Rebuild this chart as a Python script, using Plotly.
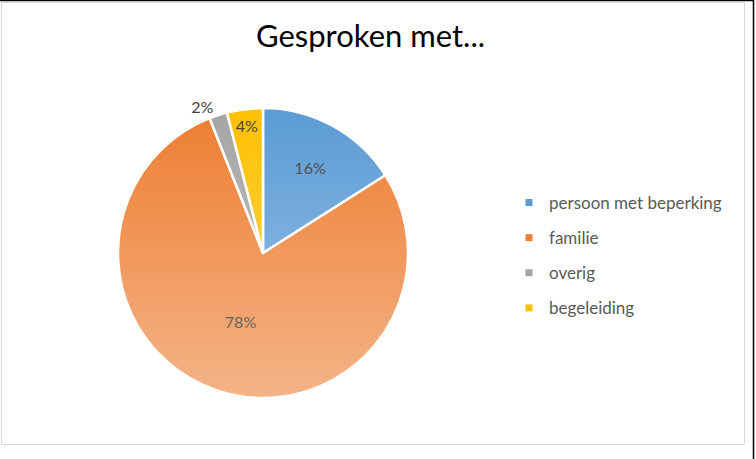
import base64
import plotly.graph_objects as go

# ---- data ----
labels = ["persoon met beperking", "familie", "overig", "begeleiding"]
values = [16, 78, 2, 4]
colors = ["#5B9BD5", "#ED7D31", "#A5A5A5", "#FFC000"]
text_positions = ["inside", "inside", "outside", "inside"]
text_colors = ["#404040", "#1a1a1a", "#404040", "#404040"]
title_text = "Gesproken met..."

W, H = 756, 459
# pie placement (pixels -> paper)
cx, cy, r = 263, 253, 145
dom_x = [(cx - r) / W, (cx + r) / W]
dom_y = [(H - cy - r) / H, (H - cy + r) / H]

fig = go.Figure()
fig.add_trace(go.Pie(
    labels=labels, values=values, sort=False, direction="clockwise", rotation=0,
    marker=dict(colors=colors, line=dict(color="white", width=2.5)),
    textinfo="percent", texttemplate="%{percent:.0%}",
    textposition=text_positions, insidetextorientation="horizontal",
    textfont=dict(family="Lato", size=16, color=text_colors),
    showlegend=False, domain=dict(x=dom_x, y=dom_y), hoverinfo="label+percent",
))

# legend entries
for i, (lab, col) in enumerate(zip(labels, colors)):
    fig.add_trace(go.Scatter(
        x=[None], y=[None], mode="markers", name=lab, legendgroup=f"g{i}",
        marker=dict(symbol="square", size=7, color=col),
    ))

# vertical gradient overlay (Excel-like gradient fill)
svg = ('<svg xmlns="http://www.w3.org/2000/svg" width="100" height="100" viewBox="0 0 100 100" '
       'preserveAspectRatio="none"><defs><linearGradient id="g" x1="0" y1="0" x2="0" y2="1">'
       '<stop offset="0" stop-color="#ffffff" stop-opacity="0"/>'
       '<stop offset="1" stop-color="#ffffff" stop-opacity="0.42"/>'
       '</linearGradient></defs><rect x="0" y="0" width="100" height="100" fill="url(#g)"/></svg>')
uri = "data:image/svg+xml;base64," + base64.b64encode(svg.encode()).decode()

fig.update_layout(
    width=W, height=H, margin=dict(l=0, r=0, t=0, b=0),
    paper_bgcolor="white", plot_bgcolor="white",
    font=dict(family="Lato", color="#595959"),
    title=dict(text=title_text, x=370.5 / W, xanchor="center", y=(H - 36) / H, yanchor="middle",
               font=dict(family="Lato", size=31, color="#000000")),
    xaxis=dict(visible=False), yaxis=dict(visible=False),
    legend=dict(x=(551 - 42) / W, xanchor="left", y=(H - 185) / H, yanchor="top",
                font=dict(family="Lato", size=17, color="#595959"),
                tracegroupgap=10, bgcolor="rgba(0,0,0,0)", traceorder="grouped"),
    images=[dict(source=uri, xref="paper", yref="paper", x=dom_x[0], y=dom_y[1],
                 sizex=dom_x[1] - dom_x[0], sizey=dom_y[1] - dom_y[0],
                 xanchor="left", yanchor="top", sizing="stretch", layer="above")],
    shapes=[
        dict(type="rect", xref="paper", yref="paper", x0=1.5 / W, x1=744.5 / W,
             y0=(H - 444.5) / H, y1=(H - 2.5) / H, line=dict(color="#D9D9D9", width=1)),
        dict(type="line", xref="paper", yref="paper", x0=0, x1=754 / W, y0=(H - 0.5) / H, y1=(H - 0.5) / H,
             line=dict(color="#000000", width=1.5)),
        dict(type="line", xref="paper", yref="paper", x0=753.5 / W, x1=753.5 / W, y0=0, y1=1,
             line=dict(color="#000000", width=1.5)),
    ],
)

fig.write_html("out.html", config={"displayModeBar": False},
               post_script="document.body.style.margin='0';")
